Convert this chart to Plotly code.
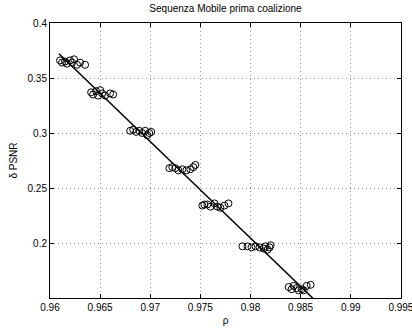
import plotly.graph_objects as go

title = "Sequenza Mobile prima coalizione"
x_label = "ρ"
y_label = "δ PSNR"

rho = [
    0.9610, 0.9612, 0.9615, 0.9617, 0.9620, 0.9622, 0.9624, 0.9627, 0.9630, 0.9635,
    0.9641, 0.9643, 0.9646, 0.9648, 0.9650, 0.9652, 0.9655, 0.9660, 0.9663,
    0.9680, 0.9683, 0.9686, 0.9689, 0.9692, 0.9695, 0.9697, 0.9699, 0.9701,
    0.9719, 0.9722, 0.9725, 0.9728, 0.9732, 0.9736, 0.9740, 0.9743, 0.9745,
    0.9752, 0.9754, 0.9757, 0.9760, 0.9764, 0.9767, 0.9770, 0.9774, 0.9778,
    0.9792, 0.9797, 0.9801, 0.9805, 0.9809, 0.9813, 0.9815, 0.9817, 0.9819, 0.9820,
    0.9838, 0.9841, 0.9843, 0.9846, 0.9848, 0.9851, 0.9853, 0.9856, 0.9860,
]
dpsnr = [
    0.366, 0.364, 0.365, 0.363, 0.366, 0.364, 0.367, 0.362, 0.364, 0.362,
    0.337, 0.335, 0.338, 0.334, 0.339, 0.336, 0.334, 0.336, 0.335,
    0.302, 0.303, 0.301, 0.302, 0.300, 0.302, 0.298, 0.300, 0.301,
    0.268, 0.269, 0.268, 0.266, 0.267, 0.266, 0.267, 0.269, 0.271,
    0.234, 0.235, 0.235, 0.233, 0.236, 0.233, 0.232, 0.234, 0.236,
    0.197, 0.197, 0.196, 0.197, 0.196, 0.195, 0.197, 0.194, 0.196, 0.198,
    0.160, 0.158, 0.161, 0.159, 0.157, 0.158, 0.157, 0.161, 0.162,
]

fit_x = [0.9609, 0.9862]
fit_y = [0.372, 0.150]

x_ticks = [0.96, 0.965, 0.97, 0.975, 0.98, 0.985, 0.99, 0.995]
x_ticklabels = ["0.96", "0.965", "0.97", "0.975", "0.98", "0.985", "0.99", "0.995"]
y_ticks = [0.2, 0.25, 0.3, 0.35, 0.4]
y_ticklabels = ["0.2", "0.25", "0.3", "0.35", "0.4"]

fig = go.Figure()
fig.add_trace(go.Scatter(
    x=rho, y=dpsnr, mode="markers",
    marker=dict(symbol="circle-open", size=7, color="black", line=dict(width=1, color="black")),
    showlegend=False,
))
fig.add_trace(go.Scatter(
    x=fit_x, y=fit_y, mode="lines",
    line=dict(color="black", width=1.5),
    showlegend=False,
))

font = dict(family="Liberation Sans, Arial, sans-serif", size=10, color="black")

fig.update_layout(
    width=412, height=329,
    margin=dict(l=50, r=11, t=23, b=31, autoexpand=False),
    paper_bgcolor="white", plot_bgcolor="white",
    font=font,
    title=dict(text=title, x=0.5, xanchor="center", xref="paper", y=1, yref="container",
               yanchor="top", pad=dict(t=5), font=dict(size=10, family=font["family"])),
)
fig.update_xaxes(
    range=[0.96, 0.99501], tickvals=x_ticks, ticktext=x_ticklabels,
    ticklabeloverflow="allow", automargin=False,
    showline=True, linecolor="black", linewidth=1, mirror="ticks",
    ticks="inside", ticklen=4, tickcolor="black",
    showgrid=True, gridcolor="#999999", griddash="1px,3px", gridwidth=1,
    zeroline=False,
    title=dict(text=x_label, standoff=4, font=dict(size=10)),
)
fig.update_yaxes(
    range=[0.15, 0.4], tickvals=y_ticks, ticktext=y_ticklabels,
    automargin=False,
    showline=True, linecolor="black", linewidth=1, mirror="ticks",
    ticks="inside", ticklen=4, tickcolor="black",
    showgrid=True, gridcolor="#999999", griddash="1px,3px", gridwidth=1,
    zeroline=False,
    title=dict(text=y_label, standoff=8, font=dict(size=10)),
)

fig.write_html("out.html")
